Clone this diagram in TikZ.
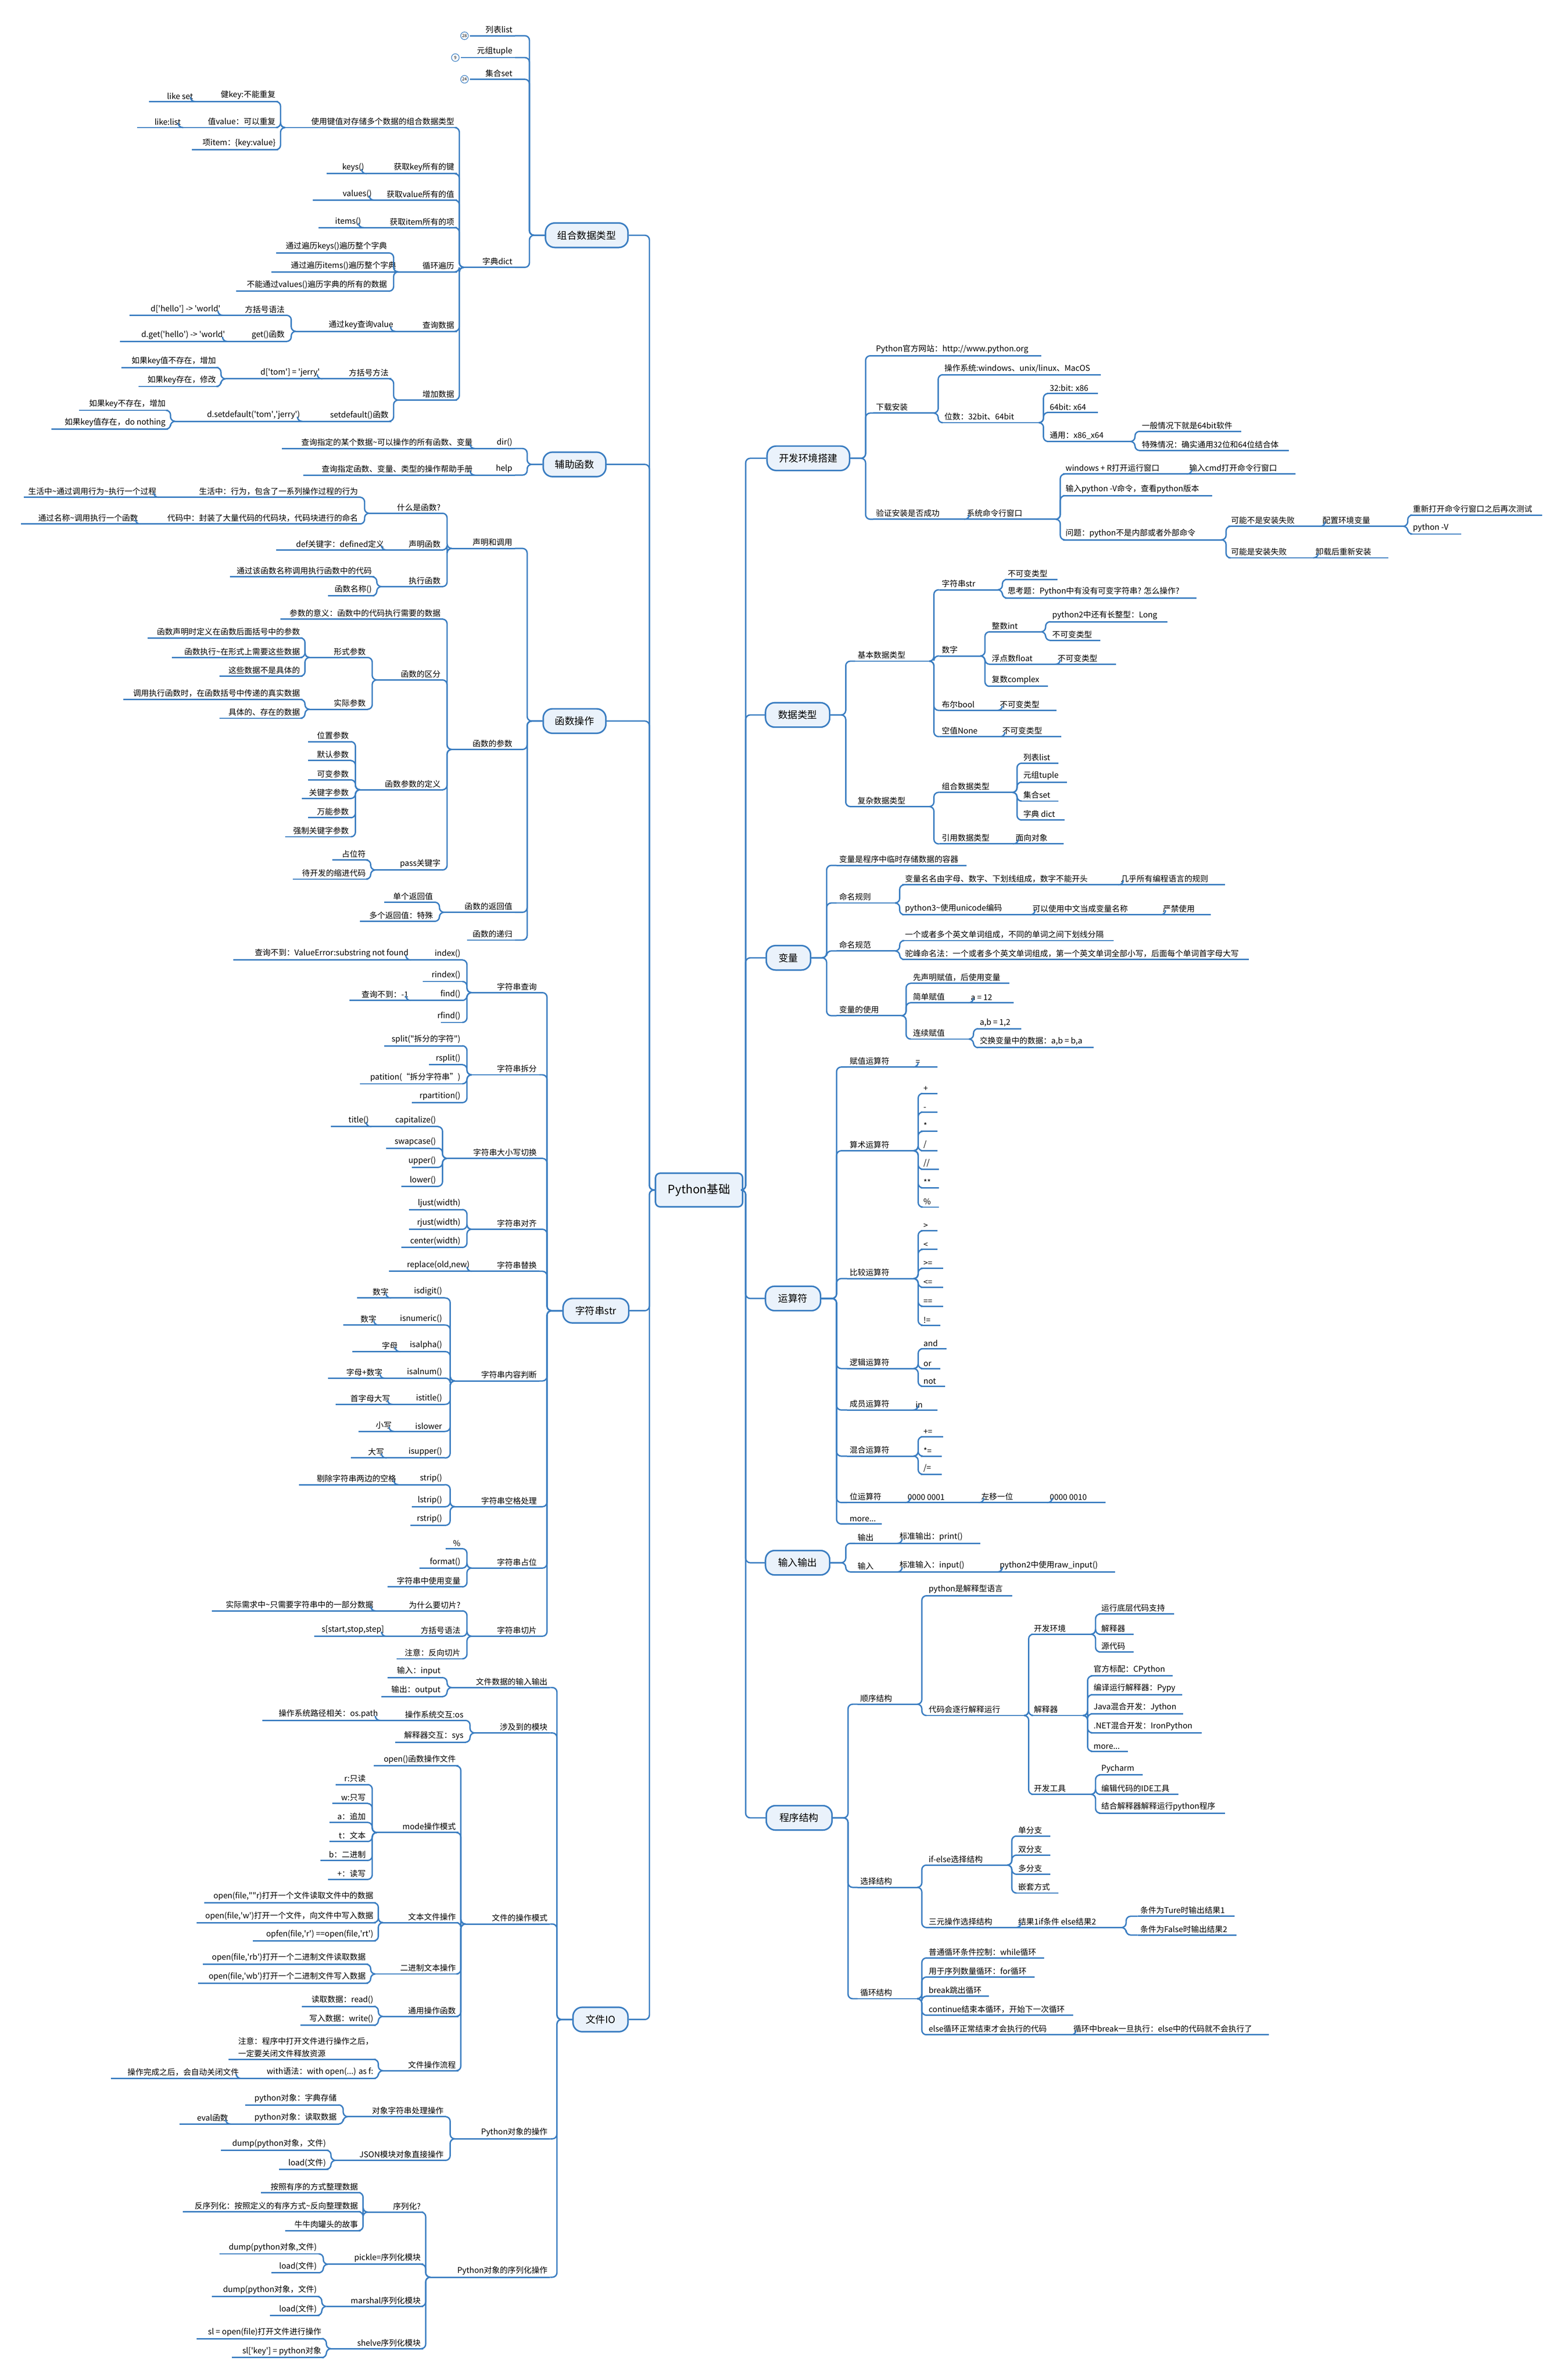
\documentclass[tikz,border=0pt]{standalone}
\usepackage{fontspec}
\setmainfont{Noto Sans CJK SC}
\usetikzlibrary{calc}
\definecolor{mapblue}{HTML}{3A7DC1}
\definecolor{boxfill}{HTML}{EAF2FB}
\newcommand\qs{\textquotesingle}
\newcommand\qd{\textquotedbl}
\tikzset{
  link/.style={draw=mapblue, line width=0.9pt, rounded corners=3pt},
  leaf/.style={inner xsep=0pt, inner ysep=1.3pt, font=\fontsize{5.2}{6}\selectfont,
    append after command={(\tikzlastnode.south west) edge[link] (\tikzlastnode.south east)}},
  topic/.style={draw=mapblue, fill=boxfill, line width=1pt, rounded corners=6pt,
    inner sep=1pt, font=\fontsize{6.4}{7}\selectfont},
  root/.style={topic, rounded corners=3pt, font=\fontsize{7.6}{8}\selectfont},
  badge/.style={circle, draw=mapblue, fill=white, line width=0.4pt, inner sep=0pt,
    minimum size=5pt, font=\fontsize{2.8}{3}\selectfont}
}
% leaf on the right side / left side: name, x1, x2, y, text
\newcommand\rit[5]{\pgfmathsetlengthmacro\lfw{(#3-#2)*1pt}%
  \node[leaf, anchor=south west] (#1) at (#2,#4) {\makebox[\lfw][l]{\hspace{1.5pt}#5}};}
\newcommand\lft[5]{\pgfmathsetlengthmacro\lfw{(#3-#2)*1pt}%
  \node[leaf, anchor=south east] (#1) at (#3,#4) {\makebox[\lfw][r]{#5\hspace{1.5pt}}};}
\newcommand\topicbox[6]{\node[topic, minimum width=#4pt, minimum height=#5pt] (#1) at (#2,#3) {#6};}
% connectors
\newcommand\lk[2]{\draw[link] (#2.south east) -| ($(#1.south west)+(-3,0)$) -- (#1.south west);}
\newcommand\rk[2]{\draw[link] (#1.south east) -- ($(#1.south east)+(3,0)$) |- (#2.south west);}
\newcommand\lb[2]{\draw[link] (#2.south east) -| ($(#1.west)+(-10,0)$) -- (#1.west);}
\newcommand\rb[2]{\draw[link] (#1.east) -- ($(#1.east)+(10,0)$) |- (#2.south west);}

\begin{document}
\begin{tikzpicture}[x=1pt, y=-1pt]
\useasboundingbox (0,0) rectangle (1024,1558);

\node[root, minimum width=57pt, minimum height=22pt] (py) at (457.5,779) {Python基础};
\coordinate (ls) at (425,779);
\coordinate (rs) at (488,779);

% ---- 组合数据类型
\topicbox{zh}{384}{154}{54}{16}{组合数据类型}
\lft{lst}{308}{337}{23.4}{列表list}
\lft{tup}{302}{337}{37.7}{元组tuple}
\lft{st}{308}{337}{51.9}{集合set}
\lft{dct}{304}{337}{175}{字典dict}
\lft{kv}{187}{299}{83.5}{使用键值对存储多个数据的组合数据类型}
\lft{kk}{128}{182}{66.5}{健key:不能重复}
\lft{lset}{98}{128}{66.5}{like set}
\lft{vv}{120}{182}{83.5}{值value：可以重复}
\lft{llist}{90}{120}{83.5}{like:list}
\lft{it}{126}{182}{98}{项item：\{key:value\}}
\lft{gk}{240}{299}{113.7}{获取key所有的键}
\lft{ks}{214}{240}{113.7}{keys()}
\lft{gv}{245}{299}{131}{获取value所有的值}
\lft{vs}{205}{245}{131}{values()}
\lft{gi}{238}{299}{149}{获取item所有的项}
\lft{its}{209}{238}{149}{items()}
\lft{lp}{261}{299}{178}{循环遍历}
\lft{lpa}{181}{255}{165.6}{通过遍历keys()遍历整个字典}
\lft{lpb}{178}{261}{178}{通过遍历items()遍历整个字典}
\lft{lpc}{155}{255}{190.6}{不能通过values()遍历字典的所有的数据}
\lft{qd}{259}{299}{216.9}{查询数据}
\lft{qk}{194}{259}{216.9}{通过key查询value}
\lft{fk}{146}{188}{206.4}{方括号语法}
\lft{fka}{85}{146}{206.4}{d[\qs hello\qs] -> \qs world\qs}
\lft{gf}{149}{188}{223.5}{get()函数}
\lft{gfa}{79}{149}{223.5}{d.get(\qs hello\qs) -> \qs world\qs}
\lft{ad}{261}{299}{261.9}{增加数据}
\lft{fm}{211}{256}{248}{方括号方法}
\lft{fma}{148}{211}{248}{d[\qs tom\qs] = \qs jerry\qs}
\lft{fmb}{80}{143}{240.6}{如果key值不存在，增加}
\lft{fmc}{91}{143}{253}{如果key存在，修改}
\lft{sd}{198}{256}{275.8}{setdefault()函数}
\lft{sda}{115}{198}{275.8}{d.setdefault(\qs tom\qs,\qs jerry\qs)}
\lft{sdb}{52}{110}{268.6}{如果key不存在，增加}
\lft{sdc}{34}{110}{280.9}{如果key值存在，do nothing}
\foreach \c in {lst,tup,st,dct} {\lb{zh}{\c}}
\foreach \c in {kv,gk,gv,gi,lp,qd,ad} {\lk{dct}{\c}}
\foreach \c in {kk,vv,it} {\lk{kv}{\c}}
\lk{kk}{lset} \lk{vv}{llist} \lk{gk}{ks} \lk{gv}{vs} \lk{gi}{its}
\foreach \c in {lpa,lpb,lpc} {\lk{lp}{\c}}
\lk{qd}{qk} \lk{qk}{fk} \lk{qk}{gf} \lk{fk}{fka} \lk{gf}{gfa}
\lk{ad}{fm} \lk{ad}{sd} \lk{fm}{fma} \lk{fma}{fmb} \lk{fma}{fmc}
\lk{sd}{sda} \lk{sda}{sdb} \lk{sda}{sdc}
\node[badge] (nb1) at (304,23.4) {28};
\node[badge] (nb2) at (298,37.7) {9};
\node[badge] (nb3) at (304,51.9) {24};

% ---- 辅助函数
\topicbox{fz}{376}{304}{41}{16}{辅助函数}
\lft{dir}{311}{337}{293.6}{dir()}
\lft{dira}{185}{311}{293.6}{查询指定的某个数据\textasciitilde 可以操作的所有函数、变量}
\lft{hlp}{311}{337}{311}{help}
\lft{hlpa}{199}{311}{311}{查询指定函数、变量、类型的操作帮助手册}
\lb{fz}{dir} \lb{fz}{hlp} \lk{dir}{dira} \lk{hlp}{hlpa}

% ---- 函数操作
\topicbox{hs}{376}{472}{41}{16}{函数操作}
\lft{smd}{296}{337}{359}{声明和调用}
\lft{sma}{242}{290}{336}{什么是函数?}
\lft{smaa}{104}{236}{325.5}{生活中：行为，包含了一系列操作过程的行为}
\lft{smab}{16}{104}{325.5}{生活中\textasciitilde 通过调用行为\textasciitilde 执行一个过程}
\lft{smac}{92}{236}{343}{代码中：封装了大量代码的代码块，代码块进行的命名}
\lft{smad}{14}{92}{343}{通过名称\textasciitilde 调用执行一个函数}
\lft{smb}{253}{290}{360}{声明函数}
\lft{smba}{181}{253}{360}{def关键字：defined定义}
\lft{smc}{250}{290}{384}{执行函数}
\lft{smca}{151}{245}{377.6}{通过该函数名称调用执行函数中的代码}
\lft{smcb}{215}{245}{390}{函数名称()}
\lft{cs}{296}{337}{490.6}{函数的参数}
\lft{csa}{184}{290}{405.3}{参数的意义：函数中的代码执行需要的数据}
\lft{csb}{247}{290}{445.1}{函数的区分}
\lft{xc}{203}{241}{430.4}{形式参数}
\lft{xca}{97}{198}{417.6}{函数声明时定义在函数后面括号中的参数}
\lft{xcb}{113}{198}{430.4}{函数执行\textasciitilde 在形式上需要这些数据}
\lft{xcc}{144}{198}{442.6}{这些数据不是具体的}
\lft{sj}{203}{241}{464.3}{实际参数}
\lft{sja}{81}{198}{457.9}{调用执行函数时，在函数括号中传递的真实数据}
\lft{sjb}{144}{198}{470.2}{具体的、存在的数据}
\lft{csc}{236}{290}{517}{函数参数的定义}
\lft{da}{202}{230}{485.5}{位置参数}
\lft{db}{202}{230}{497.9}{默认参数}
\lft{dc}{202}{230}{510.5}{可变参数}
\lft{dd}{198}{230}{522.7}{关键字参数}
\lft{de}{202}{230}{535.3}{万能参数}
\lft{df}{187}{230}{547.8}{强制关键字参数}
\lft{csd}{246}{290}{569.5}{pass关键字}
\lft{pa}{218}{241}{563}{占位符}
\lft{pb}{192}{241}{575.5}{待开发的缩进代码}
\lft{fh}{291}{337}{597.2}{函数的返回值}
\lft{fha}{252}{285}{590.6}{单个返回值}
\lft{fhb}{236}{285}{603.1}{多个返回值：特殊}
\lft{dg}{306}{337}{615.4}{函数的递归}
\foreach \c in {smd,cs,fh,dg} {\lb{hs}{\c}}
\foreach \c in {sma,smb,smc} {\lk{smd}{\c}}
\lk{sma}{smaa} \lk{sma}{smac} \lk{smaa}{smab} \lk{smac}{smad}
\lk{smb}{smba} \lk{smc}{smca} \lk{smc}{smcb}
\foreach \c in {csa,csb,csc,csd} {\lk{cs}{\c}}
\lk{csb}{xc} \lk{csb}{sj}
\foreach \c in {xca,xcb,xcc} {\lk{xc}{\c}}
\lk{sj}{sja} \lk{sj}{sjb}
\foreach \c in {da,db,dc,dd,de,df} {\lk{csc}{\c}}
\lk{csd}{pa} \lk{csd}{pb} \lk{fh}{fha} \lk{fh}{fhb}

% ---- 字符串str
\topicbox{zf}{390}{858}{43}{16}{字符串str}
\lft{cx}{309}{353}{649.8}{字符串查询}
\lft{cxa}{269}{303}{628.4}{index()}
\lft{cxaa}{153}{269}{628.4}{查询不到：ValueError:substring not found}
\lft{cxb}{277}{303}{642.5}{rindex()}
\lft{cxc}{269}{303}{654.9}{find()}
\lft{cxca}{229}{269}{654.9}{查询不到：-1}
\lft{cxd}{289}{303}{669.3}{rfind()}
\lft{cf}{309}{353}{703.6}{字符串拆分}
\lft{cfa}{252}{303}{684.6}{split(\qd 拆分的字符\qd)}
\lft{cfb}{281}{303}{697}{rsplit()}
\lft{cfc}{236}{303}{709.5}{patition(“拆分字符串”)}
\lft{cfd}{270}{303}{721.8}{rpartition()}
\lft{dx}{293}{353}{758.3}{字符串大小写切换}
\lft{dxa}{243}{287}{737.5}{capitalize()}
\lft{dxaa}{217}{243}{737.5}{title()}
\lft{dxb}{253}{287}{751.6}{swapcase()}
\lft{dxc}{270}{287}{764.2}{upper()}
\lft{dxd}{263}{287}{776.6}{lower()}
\lft{dq}{309}{353}{804.7}{字符串对齐}
\lft{dqa}{268}{303}{791.8}{ljust(width)}
\lft{dqb}{268}{303}{804.7}{rjust(width)}
\lft{dqc}{263}{303}{816.6}{center(width)}
\lft{th}{309}{353}{832.2}{字符串替换}
\lft{tha}{255}{309}{832.2}{replace(old,new)}
\lft{pd}{298}{353}{904}{字符串内容判断}
\lft{pda}{256}{291}{849.7}{isdigit()} \lft{pdaa}{234}{256}{849.7}{数字}
\lft{pdb}{248}{291}{867.4}{isnumeric()} \lft{pdba}{225}{248}{867.4}{数字}
\lft{pdc}{262}{291}{884.8}{isalpha()} \lft{pdca}{231}{262}{884.8}{字母}
\lft{pdd}{252}{291}{902.2}{isalnum()} \lft{pdda}{215}{252}{902.2}{字母+数字}
\lft{pde}{257}{291}{919.3}{istitle()} \lft{pdea}{220}{257}{919.3}{首字母大写}
\lft{pdf}{258}{291}{937}{islower} \lft{pdfa}{235}{258}{937}{小写}
\lft{pdg}{253}{291}{954.4}{isupper()} \lft{pdga}{230}{253}{954.4}{大写}
\lft{kg}{298}{353}{986.3}{字符串空格处理}
\lft{kga}{261}{291}{971.9}{strip()}
\lft{kgaa}{196}{261}{971.9}{剔除字符串两边的空格}
\lft{kgb}{270}{291}{986.3}{lstrip()}
\lft{kgc}{269}{291}{998.5}{rstrip()}
\lft{zw}{309}{353}{1026.5}{字符串占位}
\lft{zwa}{292}{303}{1013.8}{\%}
\lft{zwb}{275}{303}{1026.5}{format()}
\lft{zwc}{254}{303}{1038.8}{字符串中使用变量}
\lft{qp}{309}{353}{1071.1}{字符串切片}
\lft{qpa}{246}{303}{1054.5}{为什么要切片?}
\lft{qpaa}{139}{246}{1054.5}{实际需求中\textasciitilde 只需要字符串中的一部分数据}
\lft{qpb}{253}{303}{1071.1}{方括号语法}
\lft{qpba}{206}{253}{1071.1}{s[start,stop,step]}
\lft{qpc}{260}{303}{1085.9}{注意：反向切片}
\foreach \c in {cx,cf,dx,dq,th,pd,kg,zw,qp} {\lb{zf}{\c}}
\foreach \c in {cxa,cxb,cxc,cxd} {\lk{cx}{\c}}
\lk{cxa}{cxaa} \lk{cxc}{cxca}
\foreach \c in {cfa,cfb,cfc,cfd} {\lk{cf}{\c}}
\foreach \c in {dxa,dxb,dxc,dxd} {\lk{dx}{\c}}
\lk{dxa}{dxaa}
\foreach \c in {dqa,dqb,dqc} {\lk{dq}{\c}}
\lk{th}{tha}
\foreach \c in {a,b,c,d,e,f,g} {\lk{pd}{pd\c} \lk{pd\c}{pd\c a}}
\foreach \c in {kga,kgb,kgc} {\lk{kg}{\c}}
\lk{kga}{kgaa}
\foreach \c in {zwa,zwb,zwc} {\lk{zw}{\c}}
\foreach \c in {qpa,qpb,qpc} {\lk{qp}{\c}}
\lk{qpa}{qpaa} \lk{qpb}{qpba}

% ---- 文件IO
\topicbox{io}{393}{1322}{36}{16}{文件IO}
\lft{sr}{296}{360}{1104.7}{文件数据的输入输出}
\lft{sra}{254}{290}{1098.2}{输入：input}
\lft{srb}{250}{290}{1110.6}{输出：output}
\lft{mk}{311}{360}{1134.4}{涉及到的模块}
\lft{mka}{249}{305}{1126.2}{操作系统交互:os}
\lft{mkaa}{172}{249}{1126.2}{操作系统路径相关：os.path}
\lft{mkb}{259}{305}{1140.5}{解释器交互：sys}
\lft{ms}{305}{360}{1259.5}{文件的操作模式}
\lft{msa}{245}{300}{1156}{open()函数操作文件}
\lft{msb}{247}{300}{1199.6}{mode操作模式}
\lft{ma}{220}{241}{1168.2}{r:只读}
\lft{mb}{218}{241}{1180.6}{w:只写}
\lft{mc}{216}{241}{1193}{a：追加}
\lft{md}{216}{241}{1205.5}{t：文本}
\lft{me}{210}{241}{1217.9}{b：二进制}
\lft{mf}{215}{241}{1230.3}{+：读写}
\lft{msc}{251}{300}{1258.6}{文本文件操作}
\lft{ta}{134}{246}{1245.6}{open(file,\qd\qd r)打开一个文件读取文件中的数据}
\lft{tb}{129}{246}{1258.6}{open(file,\qs w\qs)打开一个文件，向文件中写入数据}
\lft{tc}{166}{246}{1270.5}{opfen(file,\qs r\qs) ==open(file,\qs rt\qs)}
\lft{msd}{246}{300}{1292.2}{二进制文本操作}
\lft{ba}{133}{241}{1285.8}{open(file,\qs rb\qs)打开一个二进制文件读取数据}
\lft{bb}{130}{241}{1298.2}{open(file,\qs wb\qs)打开一个二进制文件写入数据}
\lft{mse}{251}{300}{1320}{通用操作函数}
\lft{ga}{198}{246}{1313.4}{读取数据：read()}
\lft{gb}{197}{246}{1325.8}{写入数据：write()}
\lft{msf}{251}{300}{1355.5}{文件操作流程}
\lft{la}{150}{246}{1348.1}{\shortstack[l]{注意：程序中打开文件进行操作之后，\\一定要关闭文件释放资源}}
\lft{lb}{158}{246}{1360.6}{with语法：with open(...) as f:}
\lft{lba}{73}{158}{1360.6}{操作完成之后，会自动关闭文件}
\lft{po}{298}{360}{1400.1}{Python对象的操作}
\lft{poa}{228}{292}{1385.6}{对象字符串处理操作}
\lft{poaa}{161}{222}{1377.9}{python对象：字典存储}
\lft{poab}{151}{222}{1390.4}{python对象：读取数据}
\lft{poaba}{118}{151}{1390.4}{eval函数}
\lft{pob}{220}{292}{1414.2}{JSON模块对象直接操作}
\lft{poba}{145}{215}{1407.6}{dump(python对象，文件)}
\lft{pobb}{183}{215}{1420}{load(文件)}
\lft{sq}{282}{360}{1490.7}{Python对象的序列化操作}
\lft{sqa}{241}{277}{1448.1}{序列化?}
\lft{sqaa}{171}{236}{1435.3}{按照有序的方式整理数据}
\lft{sqab}{120}{236}{1447.8}{反序列化：按照定义的有序方式\textasciitilde 反向整理数据}
\lft{sqac}{187}{236}{1460.2}{牛牛肉罐头的故事}
\lft{sqb}{215}{277}{1482.2}{pickle=序列化模块}
\lft{sqba}{144}{209}{1475.4}{dump(python对象,文件)}
\lft{sqbb}{178}{209}{1487.8}{load(文件)}
\lft{sqc}{214}{277}{1509.8}{marshal序列化模块}
\lft{sqca}{139}{209}{1503.3}{dump(python对象，文件)}
\lft{sqcb}{177}{209}{1515.7}{load(文件)}
\lft{sqd}{217}{277}{1537.5}{shelve序列化模块}
\lft{sqda}{129}{212}{1530.9}{sl = open(file)打开文件进行操作}
\lft{sqdb}{152}{212}{1543.3}{sl[\qs key\qs] = python对象}
\foreach \c in {sr,mk,ms,po,sq} {\lb{io}{\c}}
\lk{sr}{sra} \lk{sr}{srb} \lk{mk}{mka} \lk{mk}{mkb} \lk{mka}{mkaa}
\foreach \c in {msa,msb,msc,msd,mse,msf} {\lk{ms}{\c}}
\foreach \c in {ma,mb,mc,md,me,mf} {\lk{msb}{\c}}
\foreach \c in {ta,tb,tc} {\lk{msc}{\c}}
\lk{msd}{ba} \lk{msd}{bb} \lk{mse}{ga} \lk{mse}{gb}
\lk{msf}{la} \lk{msf}{lb} \lk{lb}{lba}
\lk{po}{poa} \lk{po}{pob} \lk{poa}{poaa} \lk{poa}{poab} \lk{poab}{poaba}
\lk{pob}{poba} \lk{pob}{pobb}
\foreach \c in {sqa,sqb,sqc,sqd} {\lk{sq}{\c}}
\foreach \c in {sqaa,sqab,sqac} {\lk{sqa}{\c}}
\lk{sqb}{sqba} \lk{sqb}{sqbb} \lk{sqc}{sqca} \lk{sqc}{sqcb}
\lk{sqd}{sqda} \lk{sqd}{sqdb}

% ---- 开发环境搭建
\topicbox{kf}{529}{300}{54}{16}{开发环境搭建}
\rit{gw}{571.6}{681}{232.9}{Python官方网站：http://www.python.org}
\rit{xz}{571.6}{610.6}{270.4}{下载安装}
\rit{xza}{616.4}{720}{245.3}{操作系统:windows、unix/linux、MacOS}
\rit{xzb}{616.4}{679.5}{276.7}{位数：32bit、64bit}
\rit{bta}{685.3}{718}{257.6}{32:bit: x86}
\rit{btb}{685.3}{718}{270}{64bit: x64}
\rit{btc}{685.3}{739.4}{289}{通用：x86\_x64}
\rit{btca}{745.6}{811.8}{282.4}{一般情况下就是64bit软件}
\rit{btcb}{745.6}{843.1}{294.9}{特殊情况：确实通用32位和64位结合体}
\rit{yz}{571.6}{631}{339.9}{验证安装是否成功}
\rit{yza}{631}{690.5}{339.9}{系统命令行窗口}
\rit{wa}{695.7}{776.6}{310.3}{windows + R打开运行窗口}
\rit{waa}{776.6}{847.6}{310.3}{输入cmd打开命令行窗口}
\rit{wb}{695.7}{793}{324.5}{输入python -V命令，查看python版本}
\rit{wc}{695.7}{799}{353.4}{问题：python不是内部或者外部命令}
\rit{wca}{804}{863.8}{344.5}{可能不是安装失败}
\rit{wcaa}{863.8}{917.9}{344.5}{配置环境变量}
\rit{wcab}{923}{1009}{337.2}{重新打开命令行窗口之后再次测试}
\rit{wcac}{923}{955.8}{349.6}{python -V}
\rit{wcb}{804}{859.3}{365.2}{可能是安装失败}
\rit{wcba}{859.3}{908.2}{365.2}{卸载后重新安装}
\foreach \c in {gw,xz,yz} {\rb{kf}{\c}}
\rk{xz}{xza} \rk{xz}{xzb}
\foreach \c in {bta,btb,btc} {\rk{xzb}{\c}}
\rk{btc}{btca} \rk{btc}{btcb}
\rk{yz}{yza}
\foreach \c in {wa,wb,wc} {\rk{yza}{\c}}
\rk{wa}{waa} \rk{wc}{wca} \rk{wc}{wcb} \rk{wca}{wcaa}
\rk{wcaa}{wcab} \rk{wcaa}{wcac} \rk{wcb}{wcba}

% ---- 数据类型
\topicbox{sjl}{522}{468}{42}{16}{数据类型}
\rit{jb}{559.6}{607.8}{432.8}{基本数据类型}
\rit{jba}{614.7}{652.6}{386.1}{字符串str}
\rit{jbaa}{657.8}{691.5}{379.3}{不可变类型}
\rit{jbab}{657.8}{782.5}{391.5}{思考题：Python中有没有可变字符串? 怎么操作?}
\rit{jbb}{614.7}{641.2}{429.4}{数字}
\rit{jbba}{647.4}{680.9}{413.6}{整数int}
\rit{jbbaa}{687}{763.5}{407}{python2中还有长整型：Long}
\rit{jbbab}{687}{719.8}{419.2}{不可变类型}
\rit{jbbb}{647.4}{690.5}{434.8}{浮点数float}
\rit{jbbba}{690.5}{730}{434.8}{不可变类型}
\rit{jbbc}{647.4}{685.3}{449.3}{复数complex}
\rit{jbc}{614.7}{652.6}{465}{布尔bool}
\rit{jbca}{652.6}{691}{465}{不可变类型}
\rit{jbd}{614.7}{654.3}{482.2}{空值None}
\rit{jbda}{654.3}{694}{482.2}{不可变类型}
\rit{fs}{559.6}{607.8}{528}{复杂数据类型}
\rit{fsa}{614.7}{662.2}{518.7}{组合数据类型}
\rit{fsaa}{668}{692.2}{499.6}{列表list}
\rit{fsab}{668}{698}{512}{元组tuple}
\rit{fsac}{668}{692.2}{524.4}{集合set}
\rit{fsad}{668}{696.4}{536.8}{字典 dict}
\rit{fsb}{614.7}{663}{552.4}{引用数据类型}
\rit{fsba}{663}{695.7}{552.4}{面向对象}
\rb{sjl}{jb} \rb{sjl}{fs}
\foreach \c in {jba,jbb,jbc,jbd} {\rk{jb}{\c}}
\rk{jba}{jbaa} \rk{jba}{jbab}
\foreach \c in {jbba,jbbb,jbbc} {\rk{jbb}{\c}}
\rk{jbba}{jbbaa} \rk{jbba}{jbbab} \rk{jbbb}{jbbba} \rk{jbc}{jbca} \rk{jbd}{jbda}
\rk{fs}{fsa} \rk{fs}{fsb}
\foreach \c in {fsaa,fsab,fsac,fsad} {\rk{fsa}{\c}}
\rk{fsb}{fsba}

% ---- 变量
\topicbox{bl}{516}{627}{29}{16}{变量}
\rit{bla}{547.5}{632}{566.5}{变量是程序中临时存储数据的容器}
\rit{blb}{547.5}{585.4}{591.1}{命名规则}
\rit{blba}{590.6}{731.8}{579.2}{变量名名由字母、数字、下划线组成，数字不能开头}
\rit{blbaa}{731.8}{801.4}{579.2}{几乎所有编程语言的规则}
\rit{blbb}{590.6}{674}{598.8}{python3\textasciitilde 使用unicode编码}
\rit{blbba}{674}{759.4}{598.8}{可以使用中文当成变量名称}
\rit{blbbb}{759.4}{792.1}{598.8}{严禁使用}
\rit{blc}{547.5}{585.4}{622.5}{命名规范}
\rit{blca}{590.6}{728.4}{615.7}{一个或者多个英文单词组成，不同的单词之间下划线分隔}
\rit{blcb}{590.6}{817}{628.1}{驼峰命名法：一个或者多个英文单词组成，第一个英文单词全部小写，后面每个单词首字母大写}
\rit{bld}{547.5}{589.6}{664.9}{变量的使用}
\rit{blda}{595.8}{660.2}{643.7}{先声明赋值，后使用变量}
\rit{bldb}{595.8}{633.7}{656.4}{简单赋值}
\rit{bldba}{633.7}{663}{656.4}{a = 12}
\rit{bldc}{595.8}{633.7}{680.2}{连续赋值}
\rit{bldca}{639.5}{668.1}{673.4}{a,b = 1,2}
\rit{bldcb}{639.5}{715.3}{685.8}{交换变量中的数据：a,b = b,a}
\foreach \c in {bla,blb,blc,bld} {\rb{bl}{\c}}
\rk{blb}{blba} \rk{blba}{blbaa} \rk{blb}{blbb} \rk{blbb}{blbba} \rk{blbba}{blbbb}
\rk{blc}{blca} \rk{blc}{blcb}
\foreach \c in {blda,bldb,bldc} {\rk{bld}{\c}}
\rk{bldb}{bldba} \rk{bldc}{bldca} \rk{bldc}{bldcb}

% ---- 运算符
\topicbox{ys}{519}{850}{36}{16}{运算符}
\rit{ysa}{554.4}{597.5}{698.5}{赋值运算符}
\rit{ysaa}{597.5}{613}{698.5}{=}
\rit{ysb}{554.4}{597.5}{753.3}{算术运算符}
\rit{ara}{602.7}{613}{715.8}{+}
\rit{arb}{602.7}{613}{728}{-}
\rit{arc}{602.7}{613}{740.6}{*}
\rit{ard}{602.7}{613}{753.3}{/}
\rit{are}{602.7}{614}{765.4}{//}
\rit{arf}{602.7}{614}{777.6}{**}
\rit{arg}{602.7}{614}{790.2}{\%}
\rit{ysc}{554.4}{597.5}{837}{比较运算符}
\rit{cpa}{602.7}{613}{805.7}{>}
\rit{cpb}{602.7}{613}{817.9}{<}
\rit{cpc}{602.7}{617}{830.3}{>=}
\rit{cpd}{602.7}{617}{842.7}{<=}
\rit{cpe}{602.7}{617}{855.1}{==}
\rit{cpf}{602.7}{615}{867.5}{!=}
\rit{ysd}{554.4}{597.5}{895.9}{逻辑运算符}
\rit{lga}{602.7}{619}{882.9}{and}
\rit{lgb}{602.7}{615}{895.9}{or}
\rit{lgc}{602.7}{618}{907.5}{not}
\rit{yse}{554.4}{597.5}{923}{成员运算符}
\rit{ysea}{597.5}{613}{923}{in}
\rit{ysf}{554.4}{597.5}{953.2}{混合运算符}
\rit{mxa}{602.7}{617}{940.5}{+=}
\rit{mxb}{602.7}{616}{953.2}{*=}
\rit{mxc}{602.7}{616}{965.1}{/=}
\rit{ysg}{554.4}{592.3}{983.6}{位运算符}
\rit{ysga}{592.3}{640.5}{983.6}{0000 0001}
\rit{ysgb}{640.5}{685.3}{983.6}{左移一位}
\rit{ysgc}{685.3}{723.2}{983.6}{0000 0010}
\rit{ysh}{554.4}{576.8}{997.6}{more...}
\foreach \c in {ysa,ysb,ysc,ysd,yse,ysf,ysg,ysh} {\rb{ys}{\c}}
\rk{ysa}{ysaa} \rk{yse}{ysea}
\foreach \c in {ara,arb,arc,ard,are,arf,arg} {\rk{ysb}{\c}}
\foreach \c in {cpa,cpb,cpc,cpd,cpe,cpf} {\rk{ysc}{\c}}
\foreach \c in {lga,lgb,lgc} {\rk{ysd}{\c}}
\foreach \c in {mxa,mxb,mxc} {\rk{ysf}{\c}}
\rk{ysg}{ysga} \rk{ysga}{ysgb} \rk{ysgb}{ysgc}

% ---- 输入输出
\topicbox{sc}{522}{1023}{42}{16}{输入输出}
\rit{sca}{559.6}{587}{1010.3}{输出}
\rit{scaa}{587}{641.2}{1010.3}{标准输出：print()}
\rit{scb}{559.6}{587}{1029}{输入}
\rit{scba}{587}{652.6}{1029}{标准输入：input()}
\rit{scbb}{652.6}{729.4}{1029}{python2中使用raw\_input()}
\rb{sc}{sca} \rb{sc}{scb} \rk{sca}{scaa} \rk{scb}{scba} \rk{scba}{scbb}

% ---- 程序结构
\topicbox{cj}{523}{1190}{43}{16}{程序结构}
\rit{sx}{561.3}{599.9}{1115.6}{顺序结构}
\rit{sxa}{606.1}{661.9}{1044.6}{python是解释型语言}
\rit{sxb}{606.1}{669.8}{1123}{代码会逐行解释运行}
\rit{sxba}{675}{713.6}{1069.8}{开发环境}
\rit{ha}{719.1}{768}{1056.6}{运行底层代码支持}
\rit{hb}{719.1}{741.5}{1069.8}{解释器}
\rit{hc}{719.1}{741.5}{1081.4}{源代码}
\rit{sxbb}{675}{708.4}{1123}{解释器}
\rit{ia}{714}{767}{1097.1}{官方标配：CPython}
\rit{ib}{714}{773.2}{1109.4}{编译运行解释器：Pypy}
\rit{ic}{714}{773.9}{1121.9}{Java混合开发：Jython}
\rit{id}{714}{786}{1134.3}{.NET混合开发：IronPython}
\rit{ie}{714}{737.7}{1146.4}{more...}
\rit{sxbc}{675}{713.6}{1174.6}{开发工具}
\rit{ja}{719.1}{747.4}{1161.9}{Pycharm}
\rit{jb2}{719.1}{770.8}{1174.6}{编辑代码的IDE工具}
\rit{jc}{719.1}{801.4}{1186.9}{结合解释器解释运行python程序}
\rit{xs}{561.3}{599.9}{1235.5}{选择结构}
\rit{xsa}{606.1}{658.8}{1220.9}{if-else选择结构}
\rit{fa}{664.7}{687}{1201.9}{单分支}
\rit{fb}{664.7}{687}{1214.4}{双分支}
\rit{fc}{664.7}{687}{1226.9}{多分支}
\rit{fd}{664.7}{692.2}{1239.2}{嵌套方式}
\rit{xsb}{606.1}{664.7}{1261.8}{三元操作选择结构}
\rit{xsba}{664.7}{733.6}{1261.8}{结果1if条件 else结果2}
\rit{xsbaa}{744.6}{807.6}{1254.4}{条件为Ture时输出结果1}
\rit{xsbab}{744.6}{808.7}{1266.7}{条件为False时输出结果2}
\rit{xh}{561.3}{599.9}{1308.4}{循环结构}
\rit{xha}{606.1}{683}{1281.7}{普通循环条件控制：while循环}
\rit{xhb}{606.1}{676.7}{1294.2}{用于序列数量循环：for循环}
\rit{xhc}{606.1}{646.7}{1306.7}{break跳出循环}
\rit{xhd}{606.1}{701.9}{1319.2}{continue结束本循环，开始下一次循环}
\rit{xhe}{606.1}{700.8}{1332}{else循环正常结束才会执行的代码}
\rit{xhea}{700.8}{830}{1332}{循环中break一旦执行：else中的代码就不会执行了}
\rb{cj}{sx} \rb{cj}{xs} \rb{cj}{xh}
\rk{sx}{sxa} \rk{sx}{sxb}
\foreach \c in {sxba,sxbb,sxbc} {\rk{sxb}{\c}}
\foreach \c in {ha,hb,hc} {\rk{sxba}{\c}}
\foreach \c in {ia,ib,ic,id,ie} {\rk{sxbb}{\c}}
\foreach \c in {ja,jb2,jc} {\rk{sxbc}{\c}}
\rk{xs}{xsa} \rk{xs}{xsb}
\foreach \c in {fa,fb,fc,fd} {\rk{xsa}{\c}}
\rk{xsb}{xsba} \rk{xsba}{xsbaa} \rk{xsba}{xsbab}
\foreach \c in {xha,xhb,xhc,xhd,xhe} {\rk{xh}{\c}}
\rk{xhe}{xhea}

% ---- root links
\foreach \b in {zh,fz,hs,zf,io} {\draw[link] (\b.east) -| (ls) -- (py.west);}
\foreach \b in {kf,sjl,bl,ys,sc,cj} {\draw[link] (py.east) -- (rs) |- (\b.west);}
\end{tikzpicture}
\end{document}
